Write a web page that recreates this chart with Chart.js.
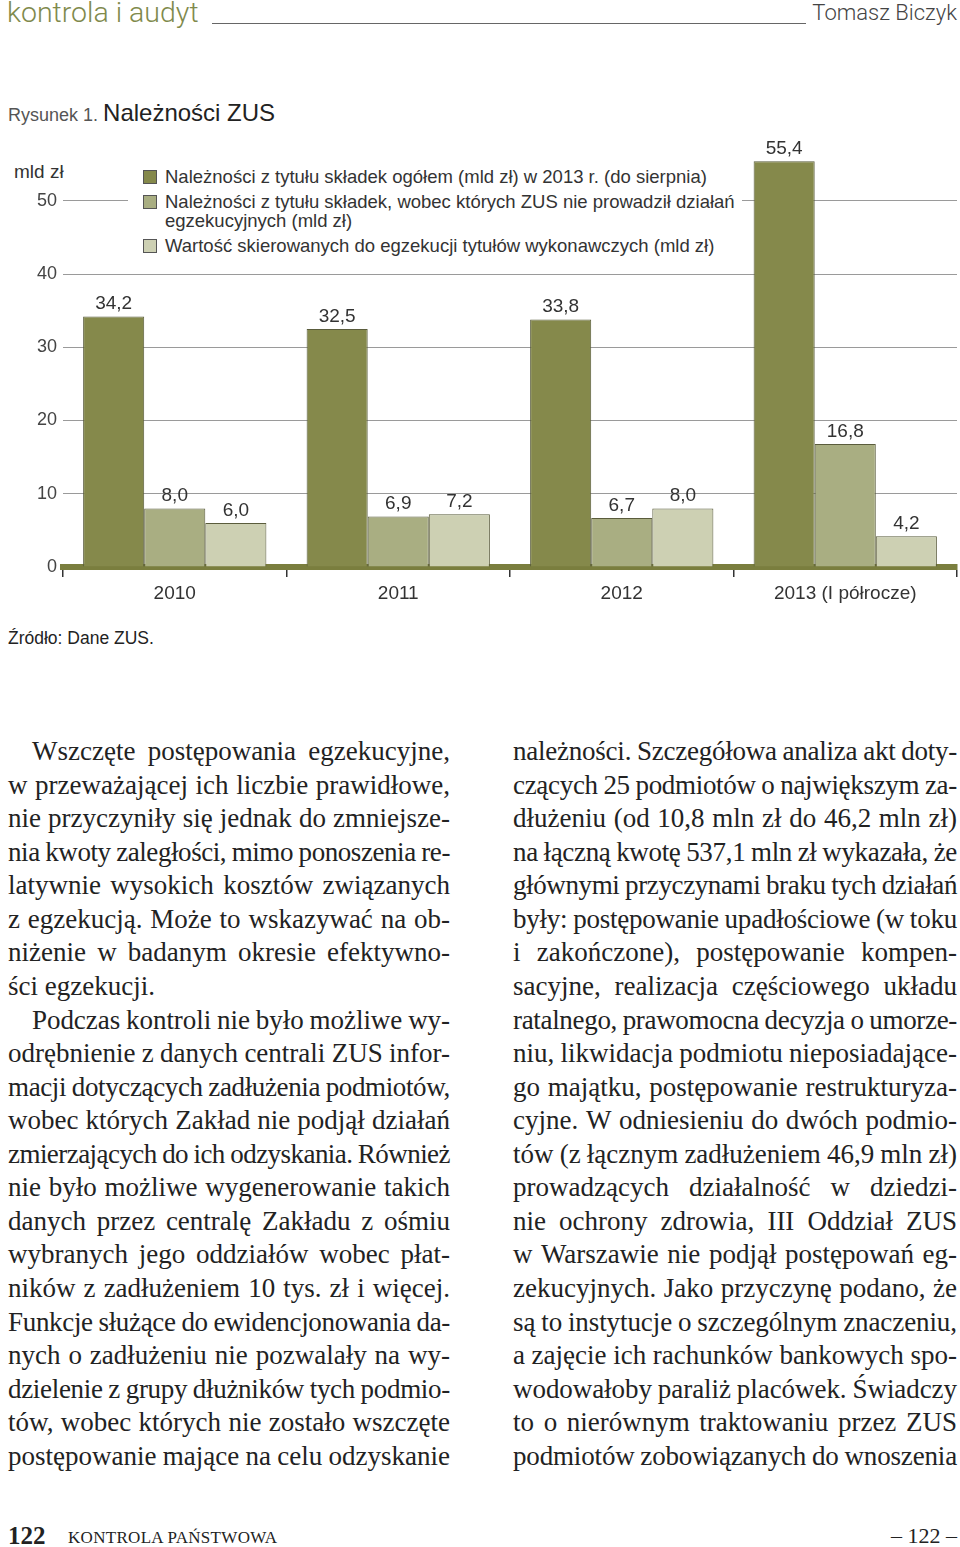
<!DOCTYPE html>
<html lang="pl">
<head>
<meta charset="utf-8">
<script src="https://cdn.jsdelivr.net/npm/chart.js@4.4.1/dist/chart.umd.min.js"></script>
<style>
  html, body { margin: 0; padding: 0; background: #fff; }
  body { width: 960px; height: 1547px; position: relative; overflow: hidden;
         font-family: "Liberation Sans", Arial, sans-serif; color: #222; }
  .abs { position: absolute; white-space: nowrap; }

  /* page header */
  #hdrLeft  { left: 7px; top: -4px; font-family: Roboto, sans-serif; font-weight: 300; font-size: 28.5px; color: #7f8a4c; }
  #hdrLine  { left: 212px; top: 23px; width: 594px; border-top: 1.5px solid #666; }
  #hdrRight { right: 3px; top: 0px; font-family: Roboto, sans-serif; font-weight: 300; font-size: 22px; color: #444; }

  /* figure title */
  #figTitle { left: 8px; top: 99px; }
  #figTitle .num  { font-size: 18px; color: #555; }
  #figTitle .name { font-size: 24px; color: #222; }

  #unit   { left: 14px; top: 161px; font-size: 19px; color: #333; }
  #source { left: 8px; top: 628px; font-size: 17.5px; color: #222; }

  #chartBox { left: 0; top: 140px; width: 960px; height: 470px; }

  /* legend drawn as real text on a white box */
  #legend { left: 128px; top: 163px; width: 614px; height: 97px; background: #fff; z-index: 2; padding-top: 4px; box-sizing: border-box; }
  .li  { position: relative; padding-left: 37px; font-size: 18.5px; line-height: 19px; margin-bottom: 6px; white-space: pre-line; color: #333; }
  .sw  { position: absolute; left: 15px; top: 3px; width: 14px; height: 14px; border: 1px solid #555; box-sizing: border-box; }

  /* body text */
  .col { position: absolute; top: 735px; font-family: "Liberation Serif", "Times New Roman", serif; font-size: 27px; color: #222; }
  #col1 { left: 8px;   width: 442px; }
  #col2 { left: 513px; width: 444px; }
  .ln  { display: flex; justify-content: space-between; height: 33.57px; line-height: 33.57px; white-space: nowrap; }
  .ln.ind  { padding-left: 24px; }
  .ln.last { display: block; }

  /* footer */
  #pgNum   { left: 8px; top: 1522px; font-family: "Liberation Serif", serif; font-weight: bold; font-size: 25px; color: #222; }
  #pgMag   { left: 68px; top: 1528px; font-family: "Liberation Serif", serif; font-size: 17px; color: #222; letter-spacing: 0.3px; }
  #pgRight { right: 3px; top: 1523px; font-family: "Liberation Serif", serif; font-size: 22px; color: #222; }
</style>
</head>
<body>

<div class="abs" id="hdrLeft">kontrola i audyt</div>
<div class="abs" id="hdrLine"></div>
<div class="abs" id="hdrRight">Tomasz Biczyk</div>

<div class="abs" id="figTitle"><span class="num">Rysunek 1. </span><span class="name">Należności ZUS</span></div>
<div class="abs" id="unit">mld zł</div>

<div class="abs" id="chartBox"><canvas id="zusChart" width="960" height="470"></canvas></div>
<div class="abs" id="legend"></div>

<div class="abs" id="source">Źródło: Dane ZUS.</div>

<div class="col" id="col1"></div>
<div class="col" id="col2"></div>

<div class="abs" id="pgNum">122</div>
<div class="abs" id="pgMag">KONTROLA PAŃSTWOWA</div>
<div class="abs" id="pgRight">– 122 –</div>

<script>
'use strict';

// ── Data ──────────────────────────────────────────────────────────────────────
var categories        = ['2010', '2011', '2012', '2013 (I półrocze)'];
var totalDues         = [34.2, 32.5, 33.8, 55.4];
var noEnforcementDues = [8.0, 6.9, 6.7, 16.8];
var enforcementTitles = [6.0, 7.2, 8.0, 4.2];
var yTicks            = [0, 10, 20, 30, 40, 50];

var seriesLabels = [
  'Należności z tytułu składek ogółem (mld zł) w 2013 r. (do sierpnia)',
  'Należności z tytułu składek, wobec których ZUS nie prowadził działań\negzekucyjnych (mld zł)',
  'Wartość skierowanych do egzekucji tytułów wykonawczych (mld zł)'
];
var seriesColors = ['#85894b', '#a9ae82', '#cdd0b3'];

// ── Body text (line breaks as on the page) ────────────────────────────────────
var col1Lines = [
  'Wszczęte postępowania egzekucyjne,',
  'w przeważającej ich liczbie prawidłowe,',
  'nie przyczyniły się jednak do zmniejsze-',
  'nia kwoty zaległości, mimo ponoszenia re-',
  'latywnie wysokich kosztów związanych',
  'z egzekucją. Może to wskazywać na ob-',
  'niżenie w badanym okresie efektywno-',
  'ści egzekucji.',
  'Podczas kontroli nie było możliwe wy-',
  'odrębnienie z danych centrali ZUS infor-',
  'macji dotyczących zadłużenia podmiotów,',
  'wobec których Zakład nie podjął działań',
  'zmierzających do ich odzyskania. Również',
  'nie było możliwe wygenerowanie takich',
  'danych przez centralę Zakładu z ośmiu',
  'wybranych jego oddziałów wobec płat-',
  'ników z zadłużeniem 10 tys. zł i więcej.',
  'Funkcje służące do ewidencjonowania da-',
  'nych o zadłużeniu nie pozwalały na wy-',
  'dzielenie z grupy dłużników tych podmio-',
  'tów, wobec których nie zostało wszczęte',
  'postępowanie mające na celu odzyskanie'
];
var col2Lines = [
  'należności. Szczegółowa analiza akt doty-',
  'czących 25 podmiotów o największym za-',
  'dłużeniu (od 10,8 mln zł do 46,2 mln zł)',
  'na łączną kwotę 537,1 mln zł wykazała, że',
  'głównymi przyczynami braku tych działań',
  'były: postępowanie upadłościowe (w toku',
  'i zakończone), postępowanie kompen-',
  'sacyjne, realizacja częściowego układu',
  'ratalnego, prawomocna decyzja o umorze-',
  'niu, likwidacja podmiotu nieposiadające-',
  'go majątku, postępowanie restrukturyza-',
  'cyjne. W odniesieniu do dwóch podmio-',
  'tów (z łącznym zadłużeniem 46,9 mln zł)',
  'prowadzących działalność w dziedzi-',
  'nie ochrony zdrowia, III Oddział ZUS',
  'w Warszawie nie podjął postępowań eg-',
  'zekucyjnych. Jako przyczynę podano, że',
  'są to instytucje o szczególnym znaczeniu,',
  'a zajęcie ich rachunków bankowych spo-',
  'wodowałoby paraliż placówek. Świadczy',
  'to o nierównym traktowaniu przez ZUS',
  'podmiotów zobowiązanych do wnoszenia'
];

function buildColumn(el, lines, indented, lastLines) {
  lines.forEach(function (txt, i) {
    var d = document.createElement('div');
    d.className = 'ln' + (indented.indexOf(i) >= 0 ? ' ind' : '') + (lastLines.indexOf(i) >= 0 ? ' last' : '');
    if (lastLines.indexOf(i) >= 0) {
      d.textContent = txt;
    } else {
      txt.split(' ').forEach(function (w) {
        var s = document.createElement('span');
        s.textContent = w;
        d.appendChild(s);
      });
    }
    el.appendChild(d);
    // squeeze lines that don't fit (keep a small gap between words)
    var words = txt.split(' ').length;
    var over = d.scrollWidth - d.clientWidth;
    var minGap = (words - 1) * 6;
    var natural = 0;
    Array.prototype.forEach.call(d.children, function (s) { natural += s.getBoundingClientRect().width; });
    var room = d.clientWidth - (d.classList.contains('ind') ? 24 : 0) - natural - minGap;
    if (d.children.length && room < 0) {
      d.style.letterSpacing = (room / txt.length).toFixed(2) + 'px';
    } else if (over > 0) {
      d.style.letterSpacing = (-(over + 2) / txt.length).toFixed(2) + 'px';
    }
  });
}
buildColumn(document.getElementById('col1'), col1Lines, [0, 8], [7]);
buildColumn(document.getElementById('col2'), col2Lines, [], []);

// ── Legend ────────────────────────────────────────────────────────────────────
var legendEl = document.getElementById('legend');
seriesLabels.forEach(function (lbl, i) {
  var it = document.createElement('div');
  it.className = 'li';
  var sw = document.createElement('span');
  sw.className = 'sw';
  sw.style.background = seriesColors[i];
  it.appendChild(sw);
  it.appendChild(document.createTextNode(lbl));
  legendEl.appendChild(it);
});

// ── Value labels above bars ───────────────────────────────────────────────────
var valueLabels = {
  id: 'valueLabels',
  afterDatasetsDraw: function (chart) {
    var ctx = chart.ctx;
    ctx.save();
    ctx.font = '19px "Liberation Sans", Arial, sans-serif';
    ctx.fillStyle = '#333';
    ctx.textAlign = 'center';
    ctx.textBaseline = 'bottom';
    chart.data.datasets.forEach(function (ds, i) {
      chart.getDatasetMeta(i).data.forEach(function (bar, j) {
        ctx.fillText(ds.data[j].toFixed(1).replace('.', ','), bar.x, bar.y - 3);
      });
    });
    ctx.restore();
  }
};

var FONT = '"Liberation Sans", Arial, sans-serif';

function makeSet(i, data) {
  return {
    label: seriesLabels[i].replace('\n', ' '),
    data: data,
    backgroundColor: seriesColors[i],
    borderColor: '#5a5c3c',
    borderWidth: 1,
    categoryPercentage: 0.82,
    barPercentage: 1.0
  };
}

new Chart(document.getElementById('zusChart').getContext('2d'), {
  type: 'bar',
  data: {
    labels: categories,
    datasets: [
      makeSet(0, totalDues),
      makeSet(1, noEnforcementDues),
      makeSet(2, enforcementTitles)
    ]
  },
  options: {
    responsive: false,
    animation: false,
    layout: { padding: { top: 16, right: 3, left: 0, bottom: 0 } },
    plugins: {
      legend: { display: false },
      tooltip: { enabled: false }
    },
    scales: {
      x: {
        z: 1,
        afterFit: function (axis) { axis.height = 43; },
        border: { display: true, color: '#7a7e3e', width: 6 },
        grid: { display: true, offset: true, drawOnChartArea: false, drawTicks: true,
                tickLength: 10, color: '#333', lineWidth: 1.5 },
        ticks: { padding: 5, color: '#333', font: { family: FONT, size: 19 } }
      },
      y: {
        min: 0,
        max: 56,
        afterBuildTicks: function (axis) {
          axis.ticks = yTicks.map(function (v) { return { value: v }; });
        },
        afterFit: function (axis) { axis.width = 63; },
        border: { display: false },
        grid: { color: '#9a9a9a', lineWidth: 1, drawTicks: false },
        ticks: { padding: 6, color: '#444', font: { family: FONT, size: 18 } }
      }
    }
  },
  plugins: [valueLabels]
});
</script>
</body>
</html>
